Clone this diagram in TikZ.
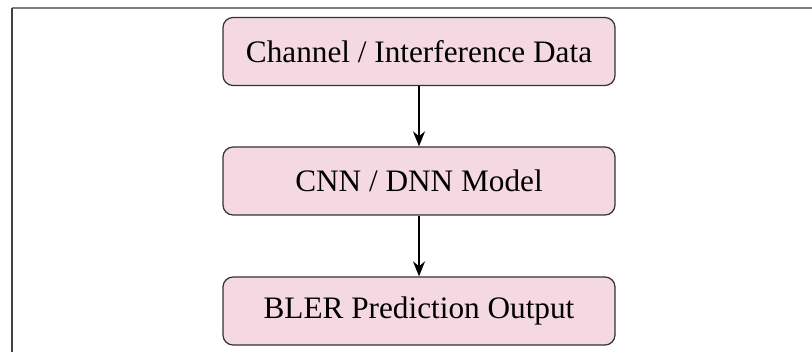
\documentclass[tikz,border=0pt]{standalone}
\usepackage{fontspec}
\setmainfont{Liberation Serif}
\usetikzlibrary{arrows.meta}

\begin{document}
\begin{tikzpicture}[x=0.4pt,y=-0.4pt,>={Stealth[length=6pt,width=4.8pt]},
  every node/.style={font=\fontsize{12.5}{15}\selectfont},
  block/.style={draw=black!80,line width=0.5pt,fill=purple!15,rounded corners=4pt,
    minimum width=156.8pt,minimum height=27.2pt,inner sep=0pt}]
  \useasboundingbox (0,0) rectangle (812,352);
  % page frame
  \draw[gray,line width=0.8pt] (12,8) -- (812,8);
  \draw[black!75,line width=0.8pt] (12,8) -- (12,352);
  % data -> model -> output
  \node[block] (data) at (419,51.5) {Channel / Interference Data};
  \node[block] (model) at (419,181) {CNN / DNN Model};
  \node[block] (out) at (419,311) {BLER Prediction Output};
  \draw[->,line width=0.8pt] (data) -- (model);
  \draw[->,line width=0.8pt] (model) -- (out);
\end{tikzpicture}
\end{document}
